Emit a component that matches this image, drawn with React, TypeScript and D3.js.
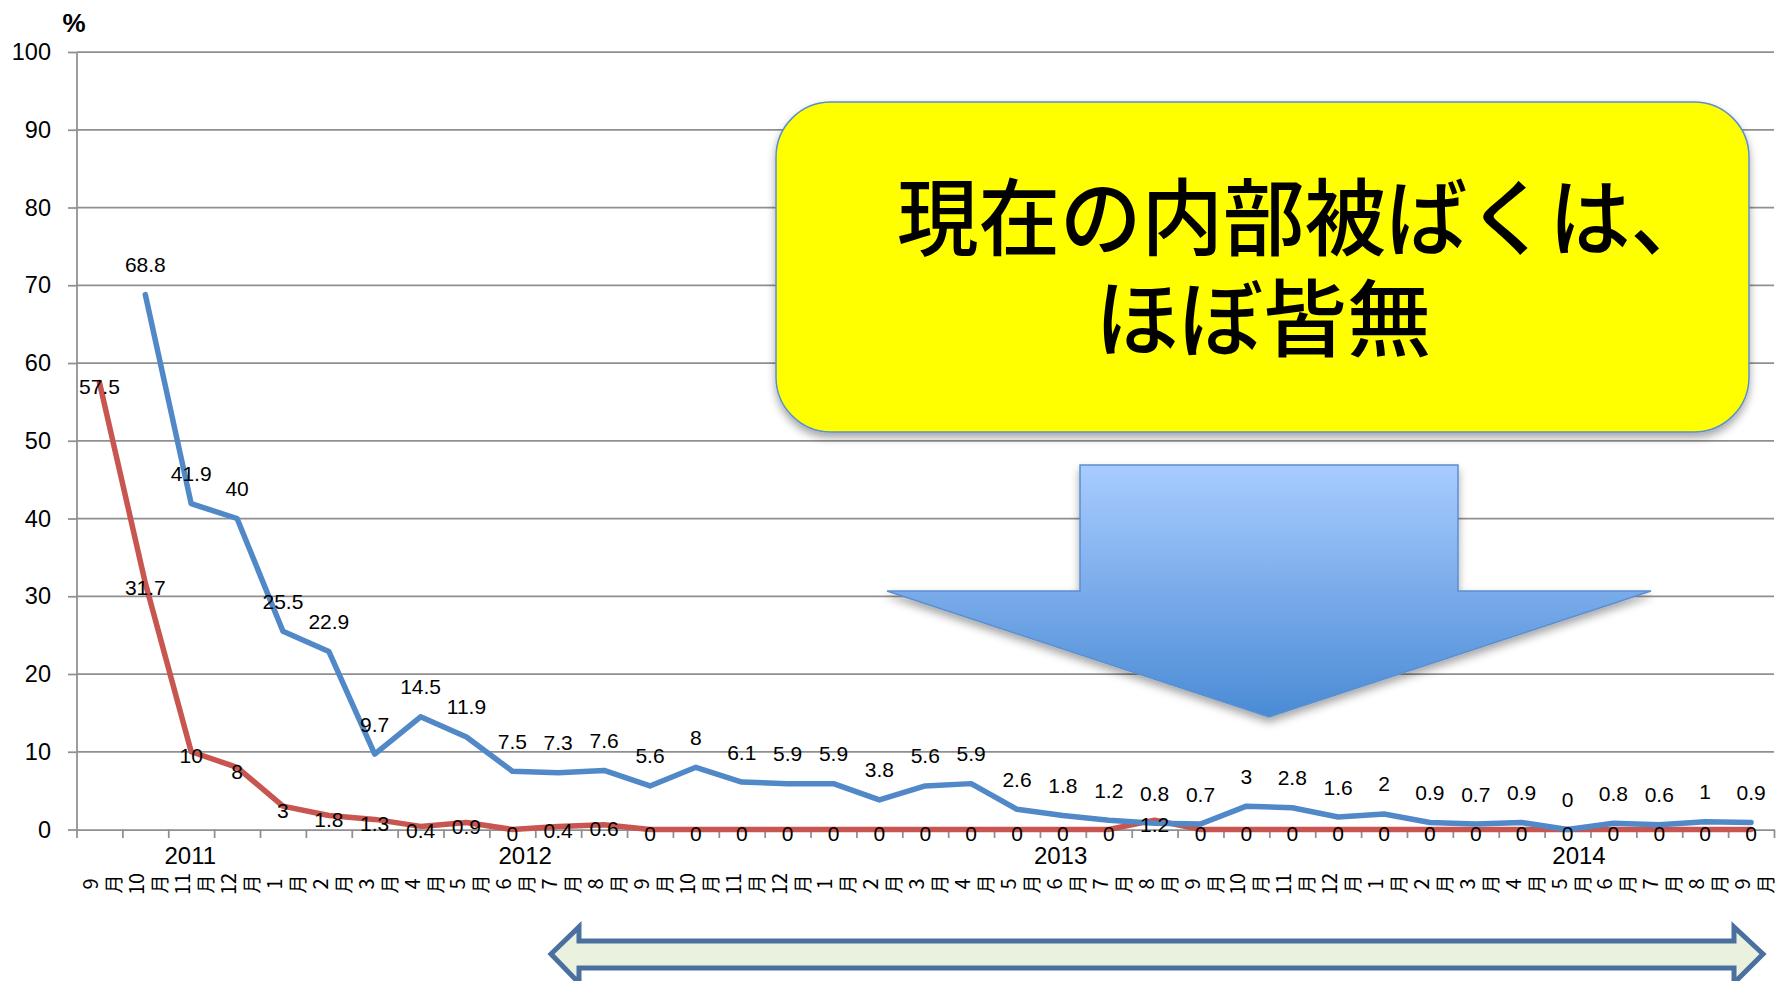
import React, { useEffect, useRef } from 'react';
import * as d3 from 'd3';

// month categories, Sept 2011 .. Sept 2014
const monthLabels = [
    '9月', '10月', '11月', '12月',
    '1月', '2月', '3月', '4月', '5月', '6月', '7月', '8月', '9月', '10月', '11月', '12月',
    '1月', '2月', '3月', '4月', '5月', '6月', '7月', '8月', '9月', '10月', '11月', '12月',
    '1月', '2月', '3月', '4月', '5月', '6月', '7月', '8月', '9月'
];

const blueValues: (number | null)[] = [
    null, 68.8, 41.9, 40,
    25.5, 22.9, 9.7, 14.5, 11.9, 7.5, 7.3, 7.6, 5.6, 8, 6.1, 5.9,
    5.9, 3.8, 5.6, 5.9, 2.6, 1.8, 1.2, 0.8, 0.7, 3, 2.8, 1.6,
    2, 0.9, 0.7, 0.9, 0, 0.8, 0.6, 1, 0.9
];

const redValues: number[] = [
    57.5, 31.7, 10, 8,
    3, 1.8, 1.3, 0.4, 0.9, 0, 0.4, 0.6, 0, 0, 0, 0,
    0, 0, 0, 0, 0, 0, 0, 1.2, 0, 0, 0, 0,
    0, 0, 0, 0, 0, 0, 0, 0, 0
];

// year labels and the (fractional) category they sit under
const yearLabels = ['2011', '2012', '2013', '2014'];
const yearAt = [1.98, 9.28, 20.95, 32.25];

const yTicks = [0, 10, 20, 30, 40, 50, 60, 70, 80, 90, 100];

const W = 1777;
const H = 981;
const numFont = "'Liberation Sans', Arial, sans-serif";
const jpFont = "'Noto Sans CJK JP', 'Noto Sans', sans-serif";

const App = () => {
    const ref = useRef<SVGSVGElement>(null);

    useEffect(() => {
        document.body.style.margin = '0';
        const svg = d3.select(ref.current);
        svg.selectAll('*').remove();

        const left = 76.5, right = 1774, top = 52, bottom = 829.5;
        const x = d3.scaleLinear().domain([0, monthLabels.length]).range([left, right]);
        const y = d3.scaleLinear().domain([0, 100]).range([bottom, top]);
        const cx = (i: number) => x(i + 0.5);

        const defs = svg.append('defs');
        const shadow = defs.append('filter').attr('id', 'shadow')
            .attr('x', '-10%').attr('y', '-10%').attr('width', '120%').attr('height', '130%');
        shadow.append('feDropShadow')
            .attr('dx', 0).attr('dy', 5).attr('stdDeviation', 4)
            .attr('flood-color', '#000').attr('flood-opacity', 0.35);
        const grad = defs.append('linearGradient').attr('id', 'arrowGrad')
            .attr('x1', 0).attr('y1', 0).attr('x2', 0).attr('y2', 1);
        grad.append('stop').attr('offset', '0%').attr('stop-color', '#a9ccff');
        grad.append('stop').attr('offset', '100%').attr('stop-color', '#4a8bd5');

        // gridlines
        svg.append('g')
            .selectAll('line')
            .data(yTicks.filter(d => d > 0))
            .enter().append('line')
            .attr('x1', left).attr('x2', right)
            .attr('y1', d => y(d)).attr('y2', d => y(d))
            .attr('stroke', '#8f8f8f').attr('stroke-width', 1.75);

        // y axis
        const yAxis = svg.append('g')
            .attr('transform', 'translate(' + left + ',0)')
            .call(d3.axisLeft(y).tickValues(yTicks).tickSize(8.5).tickPadding(17).tickSizeOuter(0));
        yAxis.select('.domain').attr('stroke', '#8f8f8f').attr('stroke-width', 1.75);
        yAxis.selectAll('.tick line').attr('stroke', '#8f8f8f').attr('stroke-width', 1.75);
        yAxis.selectAll('.tick text')
            .attr('font-family', numFont).attr('font-size', 23.5).attr('fill', '#000');

        // x axis: ticks between categories
        const xAxis = svg.append('g')
            .attr('transform', 'translate(0,' + bottom + ')')
            .call(d3.axisBottom(x).tickValues(d3.range(0, monthLabels.length + 1)).tickSize(8.5)
                .tickSizeOuter(0).tickFormat(() => ''));
        xAxis.select('.domain').attr('stroke', '#8f8f8f').attr('stroke-width', 1.75);
        xAxis.selectAll('.tick line').attr('stroke', '#8f8f8f').attr('stroke-width', 1.75);

        svg.append('text')
            .attr('x', 74).attr('y', 23)
            .attr('text-anchor', 'middle').attr('dominant-baseline', 'central')
            .attr('font-family', numFont).attr('font-size', 26).attr('font-weight', 'bold')
            .text('%');

        // month labels, rotated, two lines (number / 月)
        const months = svg.append('g').selectAll('g')
            .data(monthLabels)
            .enter().append('g');
        months.append('text')
            .attr('transform', (d, i) => 'translate(' + (cx(i) - 9.5) + ',884) rotate(-90)')
            .attr('text-anchor', 'middle').attr('dominant-baseline', 'central')
            .attr('font-family', jpFont).attr('font-size', 20)
            .text(d => d.slice(0, -1));
        months.append('text')
            .attr('transform', (d, i) => 'translate(' + (cx(i) + 13.5) + ',884) rotate(-90)')
            .attr('text-anchor', 'middle').attr('dominant-baseline', 'central')
            .attr('font-family', jpFont).attr('font-size', 19)
            .text(d => d.slice(-1));

        // year labels
        svg.append('g').selectAll('text')
            .data(yearLabels)
            .enter().append('text')
            .attr('x', (d, i) => cx(yearAt[i])).attr('y', 855)
            .attr('text-anchor', 'middle').attr('dominant-baseline', 'central')
            .attr('font-family', numFont).attr('font-size', 24)
            .text(d => d);

        // lines
        const line = d3.line<number | null>()
            .defined(d => d !== null)
            .x((d, i) => cx(i))
            .y(d => y(d as number));

        svg.append('path')
            .datum(redValues)
            .attr('d', line as any)
            .attr('fill', 'none').attr('stroke', '#c8554f').attr('stroke-width', 5.5)
            .attr('stroke-linejoin', 'round').attr('stroke-linecap', 'round');

        svg.append('path')
            .datum(blueValues)
            .attr('d', line as any)
            .attr('fill', 'none').attr('stroke', '#5188c8').attr('stroke-width', 5.5)
            .attr('stroke-linejoin', 'round').attr('stroke-linecap', 'round');

        // data labels
        svg.append('g').selectAll('text')
            .data(blueValues.map((v, i) => ({ v, i })).filter(d => d.v !== null))
            .enter().append('text')
            .attr('x', d => cx(d.i)).attr('y', d => y(d.v as number) - 30)
            .attr('text-anchor', 'middle').attr('dominant-baseline', 'central')
            .attr('font-family', numFont).attr('font-size', 21)
            .text(d => String(d.v));

        svg.append('g').selectAll('text')
            .data(redValues)
            .enter().append('text')
            .attr('x', (d, i) => cx(i)).attr('y', d => y(d) + 4)
            .attr('text-anchor', 'middle').attr('dominant-baseline', 'central')
            .attr('font-family', numFont).attr('font-size', 21)
            .text(d => String(d));

        // yellow callout
        svg.append('rect')
            .attr('x', 776).attr('y', 102).attr('width', 973).attr('height', 330).attr('rx', 55)
            .attr('fill', '#ffff00').attr('stroke', '#5b8fcf').attr('stroke-width', 1.5)
            .attr('filter', 'url(#shadow)');
        const callout = svg.append('text')
            .attr('dominant-baseline', 'central')
            .attr('font-family', jpFont).attr('font-size', 84).attr('font-weight', 500);
        callout.append('tspan')
            .attr('x', 897).attr('y', 212)
            .attr('textLength', 815).attr('lengthAdjust', 'spacingAndGlyphs')
            .text('現在の内部被ばくは、');
        callout.append('tspan')
            .attr('x', 1263).attr('y', 313)
            .attr('text-anchor', 'middle')
            .text('ほぼ皆無');

        // down arrow
        svg.append('polygon')
            .attr('points', '1080,465 1458,465 1458,591 1651,591 1269,717 887,591 1080,591')
            .attr('fill', 'url(#arrowGrad)').attr('stroke', '#5a8fd0').attr('stroke-width', 1.5)
            .attr('filter', 'url(#shadow)');

        // double-headed arrow at bottom
        svg.append('polygon')
            .attr('points', '551,954 579,927 579,941 1734,941 1734,927 1763,954 1734,983 1734,968 579,968 579,983')
            .attr('fill', '#ebf1df').attr('stroke', '#4a70a0').attr('stroke-width', 5)
            .attr('stroke-linejoin', 'miter');
    }, []);

    return <svg ref={ref} width={W} height={H} style={{ display: 'block', background: '#fff' }} />;
};

export default App;
